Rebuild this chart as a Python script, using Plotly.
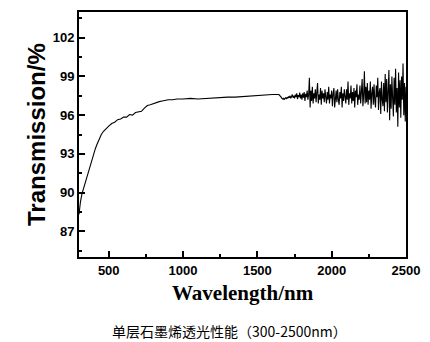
import numpy as np
import plotly.graph_objects as go

# Smooth part of the spectrum (wavelength nm, transmission %)
wl_smooth = [300, 305, 310, 320, 330, 340, 350, 360, 370, 380, 390, 400, 410, 420, 430,
             440, 450, 465, 480, 500, 520, 540, 560, 580, 600, 620, 640, 660, 680, 700,
             720, 740, 760, 780, 800, 820, 840, 860, 880, 900, 930, 960, 1000, 1050, 1100,
             1150, 1200, 1250, 1300, 1350, 1400, 1450, 1500, 1550, 1600, 1645]
t_smooth = [88.3, 88.9, 89.3, 89.9, 90.3, 90.7, 91.0, 91.5, 91.9, 92.4, 92.8, 93.1, 93.4, 93.7, 94.0,
            94.3, 94.5, 94.75, 94.95, 95.15, 95.35, 95.45, 95.65, 95.7, 95.85, 95.85, 96.05, 96.0, 96.2, 96.25,
            96.3, 96.55, 96.75, 96.8, 96.9, 96.95, 97.05, 97.1, 97.15, 97.2, 97.2, 97.25, 97.25, 97.3, 97.25,
            97.3, 97.35, 97.35, 97.4, 97.4, 97.45, 97.5, 97.5, 97.55, 97.6, 97.6]

# Noisy part, sampled every 5 nm from 1650 to 2500 nm
t_noisy = [
    97.55, 97.5, 97.4, 97.3, 97.25, 97.3, 97.2, 97.3, 97.35, 97.25,
    97.4, 97.3, 97.45, 97.35, 97.5, 97.3, 97.45, 97.6, 97.35, 97.5,
    97.3, 97.6, 97.4, 97.7, 97.25, 97.55, 97.4, 97.75, 97.3, 97.6,
    97.2, 97.7, 97.35, 97.8, 97.1, 97.65, 97.4, 97.9, 97.2, 97.6,
    98.9, 96.6, 97.9, 97.1, 98.2, 96.9, 97.7, 97.3, 98.0, 97.0,
    97.8, 98.5, 96.9, 97.6, 97.2, 98.1, 96.8, 97.9, 97.3, 97.7,
    97.0, 98.0, 97.4, 96.9, 97.8, 97.2, 98.2, 96.9, 97.6, 97.3,
    97.9, 96.7, 97.7, 98.1, 96.6, 97.5, 97.9, 97.0, 98.0, 97.2,
    96.8, 97.8, 97.3, 98.2, 96.6, 97.7, 97.1, 98.0, 97.4, 96.9,
    98.0, 97.2, 98.6, 96.8, 97.7, 97.3, 98.3, 96.9, 97.8, 97.1,
    98.1, 96.6, 97.9, 97.4, 98.4, 96.8, 97.6, 97.2, 98.3, 96.9,
    97.8, 98.8, 96.7, 97.5, 99.4, 96.9, 98.2, 97.0, 98.5, 96.8,
    97.9, 97.2, 98.6, 96.5, 97.7, 98.2, 96.8, 98.4, 97.1, 96.6,
    98.3, 97.4, 98.9, 96.4, 97.8, 98.1, 96.1, 98.6, 97.2, 96.7,
    98.5, 96.3, 99.2, 97.0, 98.8, 96.2, 97.9, 99.5, 95.6, 98.4,
    96.5, 99.0, 97.3, 95.9, 98.9, 96.8, 99.6, 96.2, 98.1, 95.1,
    99.3, 96.6, 98.7, 95.8, 99.0, 97.2, 100.0, 96.0, 98.5, 95.5,
    98.2,
]
wl_noisy = list(range(1650, 2501, 5))

x_ticks = [500, 1000, 1500, 2000, 2500]
y_ticks = [87, 90, 93, 96, 99, 102]
x_minor = [750, 1250, 1750, 2250]
y_minor = [85.5, 88.5, 91.5, 94.5, 97.5, 100.5, 103.5]

x_title = "Wavelength/nm"
y_title = "Transmission/%"
caption = "单层石墨烯透光性能（300-2500nm）"

wl = wl_smooth + wl_noisy
tr = t_smooth + t_noisy

X_RANGE = [300, 2500]
Y_RANGE = [85, 104]

fig = go.Figure()
# invisible carrier trace for the minor-tick axes
fig.add_trace(go.Scatter(x=wl, y=tr, mode="lines", xaxis="x2", yaxis="y2",
                         line=dict(color="rgba(0,0,0,0)", width=0), hoverinfo="skip",
                         showlegend=False))
fig.add_trace(go.Scatter(x=wl, y=tr, mode="lines",
                         line=dict(color="black", width=1.1), showlegend=False))

tickfont = dict(family="Liberation Sans", size=13, color="black", weight="bold")

fig.update_layout(
    width=430, height=342, margin=dict(l=79, r=19, t=10, b=85),
    paper_bgcolor="white", plot_bgcolor="white",
    xaxis=dict(range=X_RANGE, tickvals=x_ticks, ticktext=["<b>%d</b>" % v for v in x_ticks],
               ticks="inside", ticklen=6, tickwidth=2,
               tickcolor="black", showline=True, linecolor="black", linewidth=2, mirror=True,
               showgrid=False, zeroline=False, tickfont=tickfont),
    yaxis=dict(range=Y_RANGE, tickvals=y_ticks, ticktext=["<b>%d</b>" % v for v in y_ticks],
               ticks="inside", ticklen=6, tickwidth=2,
               tickcolor="black", showline=True, linecolor="black", linewidth=2, mirror=True,
               showgrid=False, zeroline=False, tickfont=tickfont),
    xaxis2=dict(range=X_RANGE, overlaying="x", side="bottom", tickvals=x_minor, ticks="inside",
                ticklen=3, tickwidth=1.5, tickcolor="black", showticklabels=False,
                showgrid=False, zeroline=False, showline=False),
    yaxis2=dict(range=Y_RANGE, overlaying="y", side="left", tickvals=y_minor, ticks="inside",
                ticklen=3, tickwidth=1.5, tickcolor="black", showticklabels=False,
                showgrid=False, zeroline=False, showline=False),
)

fig.add_annotation(text="<b>%s</b>" % x_title, xref="paper", yref="paper", x=0.5, y=-0.145,
                   xanchor="center", yanchor="middle", showarrow=False,
                   font=dict(family="Liberation Serif", size=21, color="black"))
fig.add_annotation(text="<b>%s</b>" % y_title, xref="paper", yref="paper", x=-0.13, y=0.5,
                   xanchor="center", yanchor="middle", showarrow=False, textangle=-90,
                   font=dict(family="Liberation Sans", size=24, color="black"))
fig.add_annotation(text=caption, xref="paper", yref="paper", x=0.46, y=-0.3,
                   xanchor="center", yanchor="middle", showarrow=False,
                   font=dict(family="Noto Sans CJK SC", size=14, color="black"))

fig.write_html("out.html")
